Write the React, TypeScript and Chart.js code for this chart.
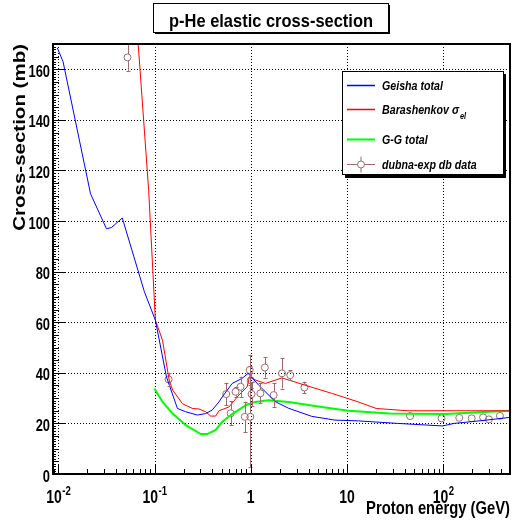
import React, { useEffect, useRef } from 'react';
import { Chart, registerables } from 'chart.js';

Chart.register(...registerables);

const SANS = '"Liberation Sans", Arial, Helvetica, sans-serif';

// ---- text ----
const TITLE = 'p-He elastic cross-section';
const X_TITLE = 'Proton energy (GeV)';
const Y_TITLE = 'Cross-section (mb)';
const X_TICKS = [0.01, 0.1, 1, 10, 100];
const X_TICK_BASE = ['10', '10', '1', '10', '10'];
const X_TICK_EXP = ['-2', '-1', '', '', '2'];
const Y_TICKS = [0, 20, 40, 60, 80, 100, 120, 140, 160];
const SERIES_NAMES = ['Geisha total', 'Barashenkov σ_el', 'G-G total', 'dubna-exp db data'];

// ---- Geisha total (blue) ----
const geishaE = [0.00975, 0.0112, 0.0216, 0.0316, 0.0356, 0.0462, 0.0785, 0.102, 0.133, 0.173, 0.211, 0.279, 0.340, 0.398, 0.467, 0.506, 0.641, 0.813, 0.94, 1.21, 1.80, 2.47, 4.30, 7.50, 13.1, 33.8, 98.6, 130, 266, 497];
const geishaXS = [168.5, 163, 110.8, 97, 97.4, 101.2, 72, 60.8, 38.4, 25.9, 24.6, 23.3, 23.9, 25.3, 28.5, 30.5, 35.8, 37.8, 39.8, 35.1, 28.6, 26, 22.8, 21.3, 21, 20, 19, 20, 21.2, 22.4];

// ---- Barashenkov sigma_el (red) ----
const barE = [0.0647, 0.0676, 0.0869, 0.102, 0.121, 0.142, 0.154, 0.195, 0.248, 0.290, 0.340, 0.383, 0.432, 0.467, 0.593, 0.752, 0.916, 0.97, 1.07, 1.42, 2.11, 3.67, 6.92, 13.1, 20.2, 42.9, 497];
const barXS = [180, 170, 112.1, 60.8, 52.9, 37.1, 33.2, 27.8, 25.9, 25.7, 24.6, 22.9, 22.9, 25, 26.5, 31.2, 34.4, 38.4, 37.4, 35.8, 38, 35.1, 31.9, 28.5, 25.9, 25, 25];

// ---- G-G total (green) ----
const ggE = [0.0996, 0.121, 0.154, 0.211, 0.302, 0.354, 0.432, 0.506, 0.641, 0.916, 1.12, 1.53, 2.47, 5.46, 10.3, 27.7, 103, 497];
const ggXS = [33.8, 28.5, 23.9, 19.3, 15.8, 15.8, 17.4, 20.7, 23.7, 27.5, 28.5, 29.2, 28.5, 26.5, 25, 23.9, 23.7, 25];

// ---- dubna-exp db data ----
const dataE = [0.0524, 0.140, 0.556, 0.617, 0.695, 0.784, 0.867, 0.975, 0.99, 1.0, 1.02, 1.26, 1.40, 1.73, 2.11, 2.57, 3.61, 45.3, 96.2, 147, 198, 260, 299, 389];
const dataXS = [164.7, 37.4, 31.6, 24, 32.5, 34.5, 22.6, 41.1, 22.6, 37, 31.6, 31.9, 42.1, 31.2, 39.8, 39.1, 34.2, 22.9, 22, 22.2, 22, 22.4, 21.6, 23];
const dataErr = [5.3, 2.6, 4.5, 4.8, 2, 4, 6, 6, 20, 3, 4.7, 4, 4, 4.6, 6, 2, 2.3, 1, 0.8, 0.8, 0.8, 0.8, 0.8, 0.8];

const X_MIN = 0.0088;
const X_MAX = 495;
const Y_MIN = 0;
const Y_MAX = 170;

const BLUE = '#0000ff';
const RED = '#ff0000';
const GREEN = '#00ff00';
const MARK = '#9b6b6e';
const MARK_R = 3.5;

const pts = (xs: number[], ys: number[]) => xs.map((x, i) => ({ x, y: ys[i] }));

function sText(
  ctx: CanvasRenderingContext2D,
  text: string,
  x: number,
  y: number,
  font: string,
  sx: number,
  align: CanvasTextAlign = 'left',
) {
  ctx.save();
  ctx.font = font;
  ctx.textAlign = align;
  ctx.textBaseline = 'alphabetic';
  ctx.translate(x, y);
  ctx.scale(sx, 1);
  ctx.fillText(text, 0, 0);
  ctx.restore();
}

function sWidth(ctx: CanvasRenderingContext2D, text: string, font: string, sx: number) {
  ctx.save();
  ctx.font = font;
  const w = ctx.measureText(text).width * sx;
  ctx.restore();
  return w;
}

const decorPlugin = {
  id: 'decor',
  beforeDatasetsDraw(chart: any) {
    const ctx = chart.ctx as CanvasRenderingContext2D;
    const a = chart.chartArea;
    const xs = chart.scales.x;
    const ys = chart.scales.y;
    ctx.save();
    ctx.strokeStyle = '#000';
    ctx.lineWidth = 1;
    ctx.setLineDash([1, 2]);
    ctx.beginPath();
    X_TICKS.forEach((v) => {
      const px = Math.round(xs.getPixelForValue(v)) + 0.5;
      ctx.moveTo(px, a.bottom);
      ctx.lineTo(px, a.top);
    });
    Y_TICKS.forEach((v) => {
      if (v === Y_MIN) return;
      const py = Math.round(ys.getPixelForValue(v)) + 0.5;
      ctx.moveTo(a.left, py);
      ctx.lineTo(a.right, py);
    });
    ctx.stroke();
    ctx.restore();
  },
  afterDatasetsDraw(chart: any) {
    const ctx = chart.ctx as CanvasRenderingContext2D;
    const a = chart.chartArea;
    const xs = chart.scales.x;
    const ys = chart.scales.y;

    // error bars
    ctx.save();
    ctx.beginPath();
    ctx.rect(a.left, a.top, a.right - a.left, a.bottom - a.top);
    ctx.clip();
    ctx.strokeStyle = MARK;
    ctx.lineWidth = 1;
    dataE.forEach((e, i) => {
      const px = Math.round(xs.getPixelForValue(e)) + 0.5;
      const py = ys.getPixelForValue(dataXS[i]);
      const top = ys.getPixelForValue(dataXS[i] + dataErr[i]);
      const bot = ys.getPixelForValue(dataXS[i] - dataErr[i]);
      ctx.beginPath();
      if (top < py - MARK_R) {
        ctx.moveTo(px, py - MARK_R);
        ctx.lineTo(px, top);
        ctx.moveTo(px - 2, Math.round(top) + 0.5);
        ctx.lineTo(px + 2, Math.round(top) + 0.5);
      }
      if (bot > py + MARK_R) {
        ctx.moveTo(px, py + MARK_R);
        ctx.lineTo(px, bot);
        ctx.moveTo(px - 2, Math.round(bot) + 0.5);
        ctx.lineTo(px + 2, Math.round(bot) + 0.5);
      }
      ctx.stroke();
    });
    ctx.restore();

    // tick marks
    ctx.save();
    ctx.strokeStyle = '#000';
    ctx.lineWidth = 1;
    ctx.beginPath();
    for (let d = -3; d <= 3; d++) {
      for (let k = 1; k <= 9; k++) {
        const v = k * Math.pow(10, d);
        if (v < X_MIN || v > X_MAX) continue;
        const px = Math.round(xs.getPixelForValue(v)) + 0.5;
        const len = k === 1 ? 10 : 5;
        ctx.moveTo(px, a.bottom);
        ctx.lineTo(px, a.bottom - len);
      }
    }
    for (let v = Y_MIN; v <= Y_MAX; v += 1) {
      const py = Math.round(ys.getPixelForValue(v)) + 0.5;
      const len = v % 20 === 0 ? 12 : v % 5 === 0 ? 6 : 3;
      ctx.moveTo(a.left, py);
      ctx.lineTo(a.left + len, py);
    }
    ctx.stroke();

    // frame
    ctx.lineWidth = 2;
    ctx.strokeRect(a.left, a.top, a.right - a.left, a.bottom - a.top);
    ctx.restore();
  },
  afterDraw(chart: any) {
    const ctx = chart.ctx as CanvasRenderingContext2D;
    const a = chart.chartArea;
    const xs = chart.scales.x;
    const ys = chart.scales.y;
    ctx.save();
    ctx.fillStyle = '#000';

    // x tick labels
    const fBase = `bold 17.5px ${SANS}`;
    const fExp = `bold 12px ${SANS}`;
    const sxT = 0.8;
    X_TICKS.forEach((v, i) => {
      const cx = xs.getPixelForValue(v);
      const wb = sWidth(ctx, X_TICK_BASE[i], fBase, sxT);
      const we = X_TICK_EXP[i] ? sWidth(ctx, X_TICK_EXP[i], fExp, sxT) : 0;
      const x0 = cx - (wb + we) / 2;
      sText(ctx, X_TICK_BASE[i], x0, 503, fBase, sxT);
      if (X_TICK_EXP[i]) sText(ctx, X_TICK_EXP[i], x0 + wb + 0.5, 495, fExp, sxT);
    });

    // y tick labels
    const fY = `bold 17px ${SANS}`;
    Y_TICKS.forEach((v) => {
      const py = ys.getPixelForValue(v);
      sText(ctx, String(v), a.left - 3, py + 7.6, fY, 0.76, 'right');
    });

    // axis titles
    sText(ctx, X_TITLE, a.right, 514, `bold 18.5px ${SANS}`, 0.8, 'right');
    ctx.save();
    ctx.translate(24.5, a.top);
    ctx.scale(0.82, 1);
    ctx.rotate(-Math.PI / 2);
    ctx.font = `bold 20.5px ${SANS}`;
    ctx.textAlign = 'right';
    ctx.textBaseline = 'alphabetic';
    ctx.fillText(Y_TITLE, 0, 0);
    ctx.restore();

    // title box
    ctx.fillStyle = '#000';
    ctx.fillRect(155, 5, 235, 29);
    ctx.fillStyle = '#fff';
    ctx.fillRect(153, 3, 235, 29);
    ctx.strokeStyle = '#000';
    ctx.lineWidth = 1;
    ctx.strokeRect(153.5, 3.5, 235, 29);
    ctx.fillStyle = '#000';
    sText(ctx, TITLE, 271, 26.5, `bold 18.5px ${SANS}`, 0.89, 'center');

    // legend box
    const L = 342, T = 71, W = 161, H = 103;
    ctx.fillStyle = '#000';
    ctx.fillRect(L + 3, T + 3, W, H + 1);
    ctx.fillStyle = '#fff';
    ctx.fillRect(L, T, W, H);
    ctx.strokeStyle = '#000';
    ctx.lineWidth = 1;
    ctx.strokeRect(L + 0.5, T + 0.5, W, H);

    const rows = [85.5, 109.5, 139.5, 164.5];
    const colors = [BLUE, RED, GREEN, MARK];
    const lx0 = 347, lx1 = 375, tx = 382;
    const fL = `italic bold 13px ${SANS}`;
    const fSub = `italic bold 9px ${SANS}`;
    rows.forEach((ry, i) => {
      ctx.strokeStyle = colors[i];
      ctx.lineWidth = i === 2 ? 2 : 1.5;
      ctx.beginPath();
      if (i === 3) {
        const cx = (lx0 + lx1) / 2;
        ctx.lineWidth = 1;
        ctx.moveTo(lx0, ry); ctx.lineTo(cx - MARK_R, ry);
        ctx.moveTo(cx + MARK_R, ry); ctx.lineTo(lx1, ry);
        ctx.moveTo(cx, ry - MARK_R); ctx.lineTo(cx, ry - 8);
        ctx.moveTo(cx, ry + MARK_R); ctx.lineTo(cx, ry + 8);
        ctx.stroke();
        ctx.beginPath();
        ctx.arc(cx, ry, MARK_R, 0, Math.PI * 2);
        ctx.stroke();
      } else {
        ctx.moveTo(lx0, ry);
        ctx.lineTo(lx1, ry);
        ctx.stroke();
      }
      ctx.fillStyle = '#000';
      const parts = SERIES_NAMES[i].split('_');
      sText(ctx, parts[0], tx, ry + 4.5, fL, 0.82);
      if (parts[1]) {
        const w = sWidth(ctx, parts[0], fL, 0.82);
        sText(ctx, parts[1], tx + w + 1, ry + 9.5, fSub, 0.82);
      }
    });
    ctx.restore();
  },
};

export default function App() {
  const ref = useRef<HTMLCanvasElement | null>(null);

  useEffect(() => {
    document.body.style.margin = '0';
    document.body.style.overflow = 'hidden';
    const canvas = ref.current;
    if (!canvas) return;

    const chart = new Chart(canvas, {
      type: 'line',
      data: {
        datasets: [
          { label: SERIES_NAMES[0], data: pts(geishaE, geishaXS), borderColor: BLUE, borderWidth: 1, pointRadius: 0, tension: 0, fill: false, clip: 0 } as any,
          { label: SERIES_NAMES[1], data: pts(barE, barXS), borderColor: RED, borderWidth: 1, pointRadius: 0, tension: 0, fill: false, clip: 0 } as any,
          { label: SERIES_NAMES[2], data: pts(ggE, ggXS), borderColor: GREEN, borderWidth: 2, pointRadius: 0, tension: 0, fill: false, clip: 0 } as any,
          { label: SERIES_NAMES[3], data: pts(dataE, dataXS), showLine: false, borderColor: MARK, backgroundColor: 'rgba(0,0,0,0)', borderWidth: 1, pointRadius: MARK_R, pointStyle: 'circle', clip: 0 } as any,
        ],
      },
      options: {
        animation: false,
        responsive: false,
        maintainAspectRatio: false,
        events: [],
        layout: { padding: { top: 44, right: 2, left: 0, bottom: 0 } },
        plugins: {
          legend: { display: false },
          title: { display: false },
          tooltip: { enabled: false },
        },
        scales: {
          x: {
            type: 'logarithmic',
            min: X_MIN,
            max: X_MAX,
            afterBuildTicks: (s: any) => { s.ticks = X_TICKS.map((v) => ({ value: v })); },
            afterFit: (s: any) => { s.height = 51; },
            grid: { display: false },
            border: { display: false },
            ticks: { display: false },
          } as any,
          y: {
            type: 'linear',
            min: Y_MIN,
            max: Y_MAX,
            afterBuildTicks: (s: any) => { s.ticks = Y_TICKS.map((v) => ({ value: v })); },
            afterFit: (s: any) => { s.width = 53; },
            grid: { display: false },
            border: { display: false },
            ticks: { display: false },
          } as any,
        },
      },
      plugins: [decorPlugin],
    });

    return () => chart.destroy();
  }, []);

  return (
    <div style={{ width: 515, height: 525, background: '#fff' }}>
      <canvas ref={ref} width={515} height={525} style={{ display: 'block' }} />
    </div>
  );
}
